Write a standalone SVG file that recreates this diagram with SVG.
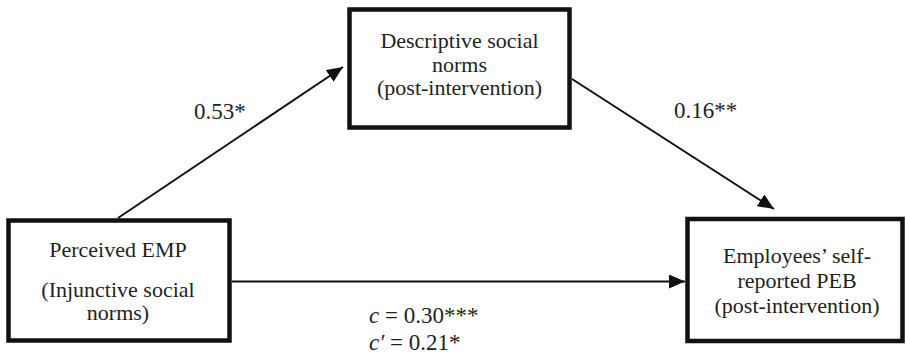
<svg xmlns="http://www.w3.org/2000/svg" width="906" height="356" viewBox="0 0 906 356">
<style>
.box{fill:#fff;stroke:#111;stroke-width:4.5}
.t{font-family:"Liberation Serif","Times New Roman",serif;font-size:22px;fill:#231f20;text-anchor:middle}
.l{font-family:"Liberation Serif","Times New Roman",serif;font-size:23px;fill:#231f20}
.c{fill:none;stroke:#111;stroke-width:2}
</style>
<defs>
<marker id="ah" markerUnits="userSpaceOnUse" markerWidth="16" markerHeight="14" refX="16" refY="7" orient="auto">
<path d="M0,0 L16,7 L0,14 Z" fill="#111"/>
</marker>
</defs>
<rect width="906" height="356" fill="#fff"/>
<g id="connectors">
<path class="c" d="M118,218 L343,67" marker-end="url(#ah)"/>
<path class="c" d="M572,79 L774,209" marker-end="url(#ah)"/>
<path class="c" d="M232,281.5 L685,281.5" marker-end="url(#ah)"/>
</g>
<g id="node-descriptive">
<rect class="box" x="349.5" y="9.5" width="220" height="118"/>
<text class="t" x="459.5" y="48">Descriptive social</text>
<text class="t" x="459.5" y="71.5">norms</text>
<text class="t" x="459.5" y="94.5">(post-intervention)</text>
</g>
<g id="node-emp">
<rect class="box" x="8.5" y="220.5" width="221" height="120"/>
<text class="t" x="118" y="257">Perceived EMP</text>
<text class="t" x="118" y="296.5">(Injunctive social</text>
<text class="t" x="118" y="320">norms)</text>
</g>
<g id="node-peb">
<rect class="box" x="687.5" y="219" width="215" height="122"/>
<text class="t" x="797" y="262.5">Employees’ self-</text>
<text class="t" x="797" y="287.5">reported PEB</text>
<text class="t" x="797" y="312.5">(post-intervention)</text>
</g>
<g id="labels">
<text class="l" x="194" y="118.5">0.53*</text>
<text class="l" x="674" y="117.5">0.16**</text>
<text class="l" x="369" y="323" xml:space="preserve"><tspan font-style="italic">c</tspan> = 0.30***</text>
<text class="l" x="369" y="350" xml:space="preserve"><tspan font-style="italic">c′</tspan> = 0.21*</text>
</g>
</svg>
